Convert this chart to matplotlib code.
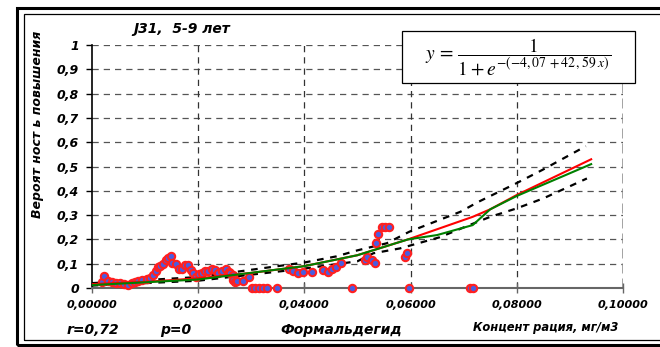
import matplotlib
matplotlib.use("Agg")
import matplotlib.pyplot as plt
from matplotlib.patches import Rectangle

# наблюдения (концентрация, вероятность)
conc = [0.0020, 0.0024, 0.0030, 0.0038, 0.0045, 0.0053, 0.0061, 0.0068, 0.0075, 0.0081,
        0.0088, 0.0095, 0.0104, 0.0110, 0.0116, 0.0121, 0.0124, 0.0129, 0.0135, 0.0140,
        0.0144, 0.0149, 0.0152, 0.0158, 0.0165, 0.0169, 0.0176, 0.0181, 0.0187, 0.0191,
        0.0196, 0.0202, 0.0208, 0.0213, 0.0219, 0.0226, 0.0232, 0.0238, 0.0245, 0.0252,
        0.0258, 0.0260, 0.0265, 0.0266, 0.0270, 0.0274, 0.0284, 0.0296,
        0.0301, 0.0307, 0.0315, 0.0323, 0.0330, 0.0348,
        0.0372, 0.0379, 0.0389, 0.0398, 0.0414, 0.0436, 0.0445, 0.0452, 0.0460, 0.0469,
        0.0489, 0.0514, 0.0519, 0.0527, 0.0533, 0.0535, 0.0539, 0.0546, 0.0552, 0.0559,
        0.0590, 0.0594, 0.0598, 0.0712, 0.0718]
prob = [0.026, 0.049, 0.030, 0.025, 0.022, 0.019, 0.015, 0.014, 0.019, 0.025,
        0.028, 0.033, 0.036, 0.041, 0.054, 0.069, 0.085, 0.091, 0.099, 0.115,
        0.123, 0.132, 0.104, 0.099, 0.077, 0.077, 0.096, 0.093, 0.074, 0.063,
        0.044, 0.058, 0.063, 0.071, 0.069, 0.077, 0.074, 0.063, 0.069, 0.077,
        0.066, 0.060, 0.052, 0.033, 0.026, 0.029, 0.030, 0.044,
        0.0, 0.0, 0.0, 0.0, 0.0, 0.0,
        0.077, 0.071, 0.063, 0.065, 0.067, 0.074, 0.067, 0.078, 0.088, 0.104,
        0.0, 0.117, 0.126, 0.115, 0.102, 0.184, 0.222, 0.252, 0.252, 0.252,
        0.126, 0.144, 0.0, 0.0, 0.0]

# модель (красная) и сглаженная (зелёная)
red_x = [0.0, 0.01, 0.02, 0.03, 0.04, 0.05, 0.0595, 0.0717, 0.075, 0.08, 0.094]
red_y = [0.016, 0.025, 0.040, 0.062, 0.090, 0.135, 0.200, 0.293, 0.324, 0.383, 0.530]
green_x = [0.0, 0.02, 0.04, 0.05, 0.0595, 0.065, 0.0717, 0.075, 0.08, 0.094]
green_y = [0.012, 0.035, 0.090, 0.135, 0.200, 0.218, 0.259, 0.324, 0.379, 0.510]

# доверительные границы
up_x = [0.0, 0.02, 0.03, 0.04, 0.046, 0.05, 0.0555, 0.0598, 0.0694, 0.0728, 0.0799, 0.0848, 0.093]
up_y = [0.020, 0.045, 0.075, 0.105, 0.130, 0.155, 0.184, 0.232, 0.314, 0.355, 0.431, 0.486, 0.584]
lo_x = [0.0, 0.02, 0.04, 0.05, 0.053, 0.058, 0.0655, 0.0712, 0.075, 0.08, 0.085, 0.0932]
lo_y = [0.010, 0.030, 0.080, 0.110, 0.143, 0.163, 0.209, 0.260, 0.293, 0.328, 0.369, 0.451]

xticks = [0.0, 0.02, 0.04, 0.06, 0.08, 0.10]
xlabels = ['0,00000', '0,02000', '0,04000', '0,06000', '0,08000', '0,10000']
yticks = [0, 0.1, 0.2, 0.3, 0.4, 0.5, 0.6, 0.7, 0.8, 0.9, 1.0]
ylabels = ['0', '0,1', '0,2', '0,3', '0,4', '0,5', '0,6', '0,7', '0,8', '0,9', '1']

plt.rcParams['font.family'] = 'DejaVu Sans'
plt.rcParams['mathtext.fontset'] = 'stix'

fig = plt.figure(figsize=(6.6, 3.47), dpi=100)
ax = fig.add_axes([0.139, 0.170, 0.805, 0.700])

# рамка
fig.add_artist(Rectangle((17/660, 1-345/347), 1.2, 337/347, transform=fig.transFigure,
                         fill=False, ec='black', lw=2.2))
fig.add_artist(Rectangle((24/660, 1-340/347), 1.2, 326/347, transform=fig.transFigure,
                         fill=False, ec='black', lw=0.9))

for y in yticks[1:]:
    ax.axhline(y, color='#555555', ls=(0, (5, 4)), lw=0.9, zorder=1)
for x in xticks[1:-1]:
    ax.axvline(x, color='#333333', ls=(0, (5, 4)), lw=0.9, zorder=1)
ax.axvline(0.1, color='#888888', ls=(0, (4, 2)), lw=1.8, zorder=1)

ax.plot(up_x, up_y, color='black', ls=(0, (3, 3)), lw=1.6, zorder=3)
ax.plot(lo_x, lo_y, color='black', ls=(0, (3, 3)), lw=1.6, zorder=3)
ax.scatter(conc, prob, s=28, c='#4a5ce0', edgecolors='#ff2020', linewidths=1.5, zorder=4, clip_on=False)
ax.plot(red_x, red_y, color='#ff0000', lw=1.5, zorder=5)
ax.plot(green_x, green_y, color='#008000', lw=1.5, zorder=6)

ax.set_xlim(0, 0.1)
ax.set_ylim(0, 1)
ax.set_xticks(xticks)
ax.set_xticklabels(xlabels, fontsize=8, fontweight='bold', fontstyle='italic')
ax.set_yticks(yticks)
ax.set_yticklabels(ylabels, fontsize=9, fontweight='bold', fontstyle='italic')
ax.tick_params(axis='x', direction='inout', length=7, width=1, color='#666666', pad=5)
ax.tick_params(axis='y', direction='out', length=4, width=1, pad=5)

ax.spines['top'].set_visible(False)
ax.spines['right'].set_visible(False)
ax.spines['left'].set_linewidth(1.2)
ax.spines['bottom'].set_color('#666666')
ax.spines['bottom'].set_linewidth(1.5)

bi = dict(fontweight='bold', fontstyle='italic')
fig.text(133/660, 1-29/347, 'J31,  5-9 лет', fontsize=10, va='center', **bi)
fig.text(38/660, 1-124/347, 'Вероят ност ь повышения', rotation=90, fontsize=9,
         ha='center', va='center', **bi)
fig.text(67/660, 1-330/347, 'r=0,72', fontsize=10, va='center', **bi)
fig.text(160/660, 1-330/347, 'p=0', fontsize=10, va='center', **bi)
fig.text(280/660, 1-330/347, 'Формальдегид', fontsize=10, va='center', **bi)
fig.text(473/660, 1-328/347, 'Концент рация, мг/м3', fontsize=8.3, va='center', **bi)

# формула
fig.add_artist(Rectangle((402/660, 1-83/347), 233/660, 52/347, transform=fig.transFigure,
                         fc='white', ec='black', lw=0.9, zorder=10))
fig.text(518/660, 1-57/347, r'$y\,=\,\dfrac{1}{1+e^{-(-4,07\,+42\,,59\;x)}}$',
         fontsize=14, ha='center', va='center', zorder=11)

fig.savefig('out.png', dpi=100)
